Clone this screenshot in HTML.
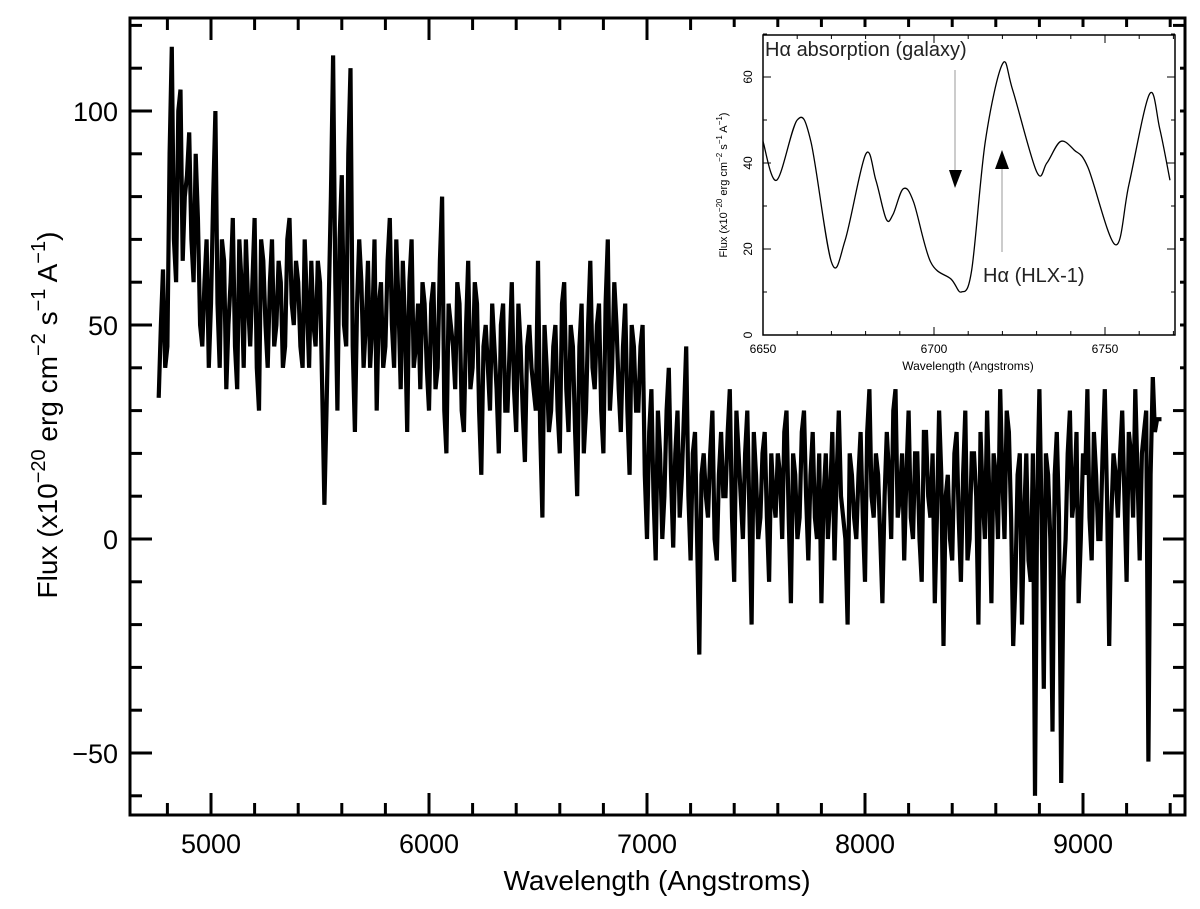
<!DOCTYPE html>
<html><head><meta charset="utf-8"><style>
html,body{margin:0;padding:0;background:#fff;}
svg{display:block;font-family:"Liberation Sans",sans-serif;}
</style></head><body>
<svg id="c" width="1200" height="909" viewBox="0 0 1200 909"></svg>
<script>
const mainStart = 4760, mainStep = 20;
const mainFlux = [
33,63,45,115,60,105,80,95,60,75,
45,70,55,100,40,65,50,75,35,60,
70,45,75,30,65,40,70,50,60,45,
75,50,60,40,55,65,45,60,8,55,
113,30,85,45,110,25,70,40,65,50,
30,60,45,75,40,55,65,25,70,45,
35,55,30,60,40,80,20,50,35,55,
25,65,40,55,15,50,30,45,20,55,
30,60,25,45,18,50,35,65,5,40,
30,50,20,60,25,45,10,55,30,65,
35,55,20,70,40,50,25,55,15,45,
30,50,0,35,-5,20,10,40,-2,30,
15,45,-5,25,-27,20,5,30,-5,25,
10,35,-10,20,0,30,-20,15,5,25,
-10,10,20,0,30,-15,15,5,30,-5,
25,0,-15,20,10,-5,30,5,-20,15,
0,25,-10,35,5,15,-15,25,0,35,
10,-5,30,0,20,-10,25,5,-15,30,
-25,15,-5,25,-10,30,0,20,-20,10,
30,-15,15,35,0,25,-25,15,-20,20,
-10,-60,35,-35,15,-45,25,-57,0,30,
10,-15,20,35,-5,15,0,35,-25,20,
5,30,-10,20,35,-5,25,-52,38,28,
28];
const mainFluxMid = [
50,40,90,70,100,65,85,70,90,50,
60,40,80,55,70,35,60,45,70,40,
55,60,40,70,50,60,45,65,40,70,
55,65,45,70,40,50,65,35,30,80,
60,70,50,90,45,55,60,50,40,70,
55,40,65,50,70,35,50,60,40,55,
60,40,55,35,65,30,55,45,60,30,
50,35,60,30,45,40,55,35,50,30,
45,35,55,30,45,40,30,25,50,25,
45,30,55,35,50,25,45,20,50,40,
50,30,55,30,60,35,45,30,50,30,
45,15,25,10,30,0,30,15,20,5,
30,10,20,0,15,10,20,0,15,10,
25,5,30,10,20,5,25,0,20,5,
20,5,15,25,5,20,0,25,10,15,
5,20,10,0,25,15,10,0,20,5,
15,5,25,10,20,0,10,15,30,5,
20,15,5,20,0,25,10,20,5,15,
10,0,20,5,15,-5,20,10,25,0,
10,20,0,15,30,5,-10,20,5,-5,
20,10,5,20,0,15,5,-10,20,5,
25,0,15,5,25,0,20,10,5,15,
20,10,25,5,15,20,30,15,25];
const mainXTicks = [5000,6000,7000,8000,9000];
const mainYTicks = [-50,0,50,100];
const insetWave = [6650,6654,6660,6664,6670,6674,6680,6683,6686,6688,6691,6694,6699,6705,6708,6711,6715,6720,6723,6730,6733,6737,6741,6745,6753,6757,6763,6766,6769];
const insetFlux = [45,36,50,45,17,22,42,36,27,28,34,31,17,13,10,15,45,63,57,38,40,45,43,39,21,35,56,48,36];
const insetXTicks = [6650,6700,6750];
const insetYTicks = [0,20,40,60];

const NS="http://www.w3.org/2000/svg", svg=document.getElementById('c');
function mk(t,a,p){const e=document.createElementNS(NS,t);for(const k in a)e.setAttribute(k,a[k]);(p||svg).appendChild(e);return e;}

const L=130,R=1185,T=18,B=815;
const mx=w=>211+(w-5000)*0.218;
const my=f=>539-f*4.28;
let frame=mk('rect',{x:L,y:T,width:R-L,height:B-T,fill:'none',stroke:'#000','stroke-width':3});


for(let w=4600;w<=9400;w+=200){const x=mx(w);if(x<L||x>R)continue;const big=w%1000===0,len=big?22:12;
 mk('line',{x1:x,y1:B,x2:x,y2:B-len,stroke:'#000','stroke-width':3});mk('line',{x1:x,y1:T,x2:x,y2:T+len,stroke:'#000','stroke-width':3});}
for(let f=-60;f<=120;f+=10){const y=my(f);if(y<T||y>B)continue;const big=f%50===0,len=big?22:12;
 mk('line',{x1:L,y1:y,x2:L+len,y2:y,stroke:'#000','stroke-width':3});mk('line',{x1:R,y1:y,x2:R-len,y2:y,stroke:'#000','stroke-width':3});}
mainXTicks.forEach(v=>{const t=mk('text',{x:mx(v),y:853,'font-size':27,'text-anchor':'middle'});t.textContent=v;
 });
mainYTicks.forEach(v=>{const t=mk('text',{x:118,y:my(v)+10,'font-size':27,'text-anchor':'end'});t.textContent=v===-50?'\u221250':v;
 });
let xt=mk('text',{x:657,y:890,'font-size':28,'text-anchor':'middle'});xt.textContent='Wavelength (Angstroms)';

let yt=mk('text',{x:0,y:0,'font-size':28,'text-anchor':'middle',transform:'translate(57,415) rotate(-90)'});
yt.innerHTML='Flux (x10<tspan dy="-12" font-size="20">\u221220</tspan><tspan dy="12"> erg cm</tspan><tspan dy="-12" font-size="20">\u22122</tspan><tspan dy="12"> s</tspan><tspan dy="-12" font-size="20">\u22121</tspan><tspan dy="12"> A</tspan><tspan dy="-12" font-size="20">\u22121</tspan><tspan dy="12">)</tspan>';

const P0=[];
mainFlux.forEach((f,i)=>{const w=mainStart+i*mainStep;P0.push([mx(w),my(f)]);
 if(i<mainFluxMid.length)P0.push([mx(w+mainStep/2),my(mainFluxMid[i])]);});
let line=mk('polyline',{points:P0.map(p=>p[0].toFixed(1)+','+p[1].toFixed(1)).join(' '),fill:'none',stroke:'#000','stroke-width':4.2,'stroke-linejoin':'miter'});


const iL=763,iR=1175,iT=35,iB=335;
const ix=w=>763+(w-6650)*3.42;
const iy=f=>335-f*4.3;
let ibg=mk('rect',{x:iL-45,y:iT-8,width:iR-iL+50,height:iB-iT+50,fill:'#fff'});

let ifr=mk('rect',{x:iL,y:iT,width:iR-iL,height:iB-iT,fill:'none',stroke:'#000','stroke-width':1.5});

for(let w=6650;w<=6770;w+=10){const x=ix(w),len=w%50===0?8:4;
 mk('line',{x1:x,y1:iB,x2:x,y2:iB-len,stroke:'#000'});mk('line',{x1:x,y1:iT,x2:x,y2:iT+len,stroke:'#000'});}
for(let f=0;f<=70;f+=10){const y=iy(f),len=f%20===0?8:4;
 mk('line',{x1:iL,y1:y,x2:iL+len,y2:y,stroke:'#000'});mk('line',{x1:iR,y1:y,x2:iR-len,y2:y,stroke:'#000'});}
insetXTicks.forEach(v=>{const t=mk('text',{x:ix(v),y:353,'font-size':12,'text-anchor':'middle'});t.textContent=v;
 });
insetYTicks.forEach(v=>{const t=mk('text',{x:0,y:0,'font-size':12,'text-anchor':'middle',transform:`translate(752,${iy(v)}) rotate(-90)`});t.textContent=v;
 });
let ixt=mk('text',{x:968,y:370,'font-size':12,'text-anchor':'middle'});ixt.textContent='Wavelength (Angstroms)';

let iyt=mk('text',{x:0,y:0,'font-size':11,'text-anchor':'middle',transform:'translate(727,185) rotate(-90)'});
iyt.innerHTML='Flux (x10<tspan dy="-5" font-size="8">\u221220</tspan><tspan dy="5"> erg cm</tspan><tspan dy="-5" font-size="8">\u22122</tspan><tspan dy="5"> s</tspan><tspan dy="-5" font-size="8">\u22121</tspan><tspan dy="5"> A</tspan><tspan dy="-5" font-size="8">\u22121</tspan><tspan dy="5">)</tspan>';

const P=insetWave.map((w,i)=>[ix(w),iy(insetFlux[i])]);
let d='M'+P[0][0]+','+P[0][1];
for(let i=0;i<P.length-1;i++){const p0=P[Math.max(0,i-1)],p1=P[i],p2=P[i+1],p3=P[Math.min(P.length-1,i+2)];
 d+=` C${p1[0]+(p2[0]-p0[0])/6},${p1[1]+(p2[1]-p0[1])/6} ${p2[0]-(p3[0]-p1[0])/6},${p2[1]-(p3[1]-p1[1])/6} ${p2[0]},${p2[1]}`;}
let icurve=mk('path',{d:d,fill:'none',stroke:'#000','stroke-width':1.3});

mk('line',{x1:955,y1:70,x2:955,y2:170,stroke:'#999','stroke-width':1});
let a1=mk('polygon',{points:'949,170 962,170 955,188',fill:'#000'});

mk('line',{x1:1002,y1:252,x2:1002,y2:168,stroke:'#999','stroke-width':1});
let a2=mk('polygon',{points:'995,169 1009,169 1002,150',fill:'#000'});

let t1=mk('text',{x:765,y:56,'font-size':20,fill:'#222'});t1.textContent='H\u03b1 absorption (galaxy)';

let t2=mk('text',{x:983,y:282,'font-size':20,fill:'#222'});t2.textContent='H\u03b1 (HLX-1)';

</script>
</body></html>
